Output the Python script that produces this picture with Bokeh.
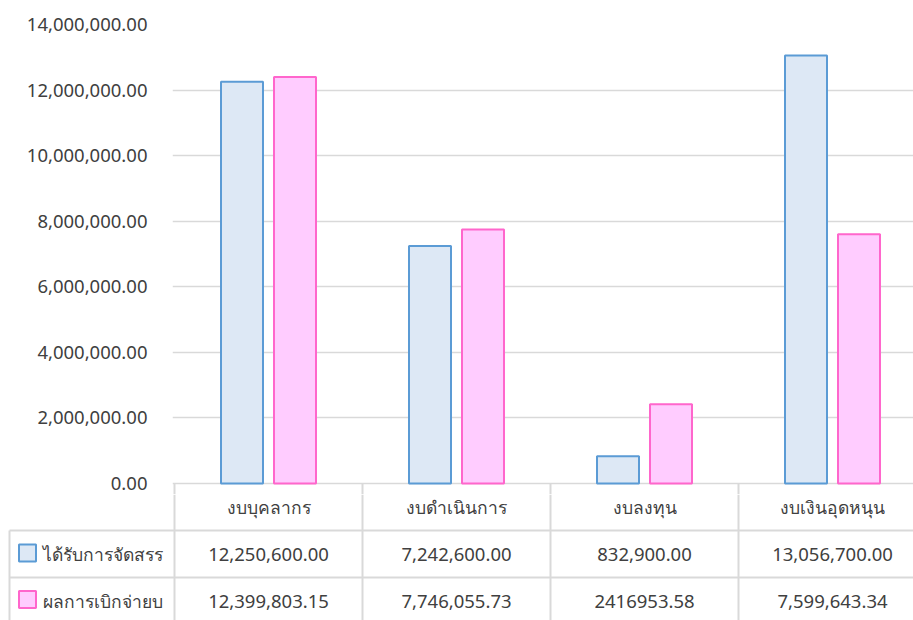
from bokeh.plotting import figure
from bokeh.models import Range1d, NumeralTickFormatter, FixedTicker, ColumnDataSource
from bokeh.layouts import column
from bokeh.embed import file_html
from bokeh.resources import INLINE
from bokeh.core.properties import value

# ---------------- data ----------------
categories = ["งบบุคลากร", "งบดำเนินการ", "งบลงทุน", "งบเงินอุดหนุน"]
series_names = ["ได้รับการจัดสรร", "ผลการเบิกจ่ายบ"]
allocated = [12250600.00, 7242600.00, 832900.00, 13056700.00]
disbursed = [12399803.15, 7746055.73, 2416953.58, 7599643.34]
allocated_labels = ["12,250,600.00", "7,242,600.00", "832,900.00", "13,056,700.00"]
disbursed_labels = ["12,399,803.15", "7,746,055.73", "2416953.58", "7,599,643.34"]
y_ticks = [0, 2000000, 4000000, 6000000, 8000000, 10000000, 12000000, 14000000]

# ---------------- style / layout ----------------
FONT = "Noto Sans, Tahoma, sans-serif"
TXT = "#404040"
GRID = "#d9d9d9"
BLUE_FILL, BLUE_LINE = "#dde8f5", "#5b9bd5"
PINK_FILL, PINK_LINE = "#ffccff", "#ff66cc"
NUM_SIZE = "18.5px"
THAI_SIZE = "17.5px"
PX = 188.0          # pixels per category column
W = 913
LEFT = 172          # top frame starts at x=172
TOP_BORDER = 24     # frame top at y=24
PLOT_PX = 459       # zero line at y=483
BELOW = 11          # frame extends 11px below zero
YMAX = 14000000
per_px = YMAX / PLOT_PX

x0 = -2 / PX
top = figure(width=W, height=TOP_BORDER + PLOT_PX + BELOW, output_backend="svg",
             toolbar_location=None, min_border_left=LEFT, min_border_right=0,
             min_border_top=TOP_BORDER, min_border_bottom=0,
             x_range=Range1d(x0, x0 + (W - LEFT) / PX),
             y_range=Range1d(-BELOW * per_px, YMAX))
top.frame_align = False
top.outline_line_color = None
top.xaxis.visible = False
top.xgrid.visible = False
top.ygrid.grid_line_color = GRID
top.ygrid.grid_line_width = 1.5
top.yaxis.ticker = FixedTicker(ticks=y_ticks)
top.yaxis.formatter = NumeralTickFormatter(format="0,0.00")
top.yaxis.axis_line_color = None
top.yaxis.major_tick_line_color = None
top.yaxis.minor_tick_line_color = None
top.yaxis.major_tick_out = 0
top.yaxis.major_tick_in = 0
top.yaxis.major_label_standoff = 25
top.yaxis.major_label_text_font = FONT
top.yaxis.major_label_text_font_size = NUM_SIZE
top.yaxis.major_label_text_color = TXT

centers = [i + 0.5 for i in range(len(categories))]
off = 26.5 / PX
bw = 42 / PX
src = ColumnDataSource(dict(
    xa=[c - off for c in centers], xb=[c + off for c in centers],
    a=allocated, b=disbursed))
top.vbar(x="xa", top="a", bottom=0, width=bw, source=src,
         fill_color=BLUE_FILL, line_color=BLUE_LINE, line_width=2)
top.vbar(x="xb", top="b", bottom=0, width=bw, source=src,
         fill_color=PINK_FILL, line_color=PINK_LINE, line_width=2)
# table vertical lines continuing below the zero line
bounds = list(range(len(categories) + 1))
top.segment(x0=bounds, x1=bounds, y0=[0] * len(bounds), y1=[-BELOW * per_px] * len(bounds),
            line_color=GRID, line_width=2)

# ---------------- data table ----------------
TH = 620 - (TOP_BORDER + PLOT_PX + BELOW)
tab = figure(width=W, height=TH, output_backend="svg", toolbar_location=None,
             min_border=0, x_range=Range1d(-174 / PX, 739 / PX),
             y_range=Range1d(BELOW + TH, BELOW))
tab.frame_align = False
tab.outline_line_color = None
tab.axis.visible = False
tab.grid.visible = False

xl = (9 - 174) / PX
n = len(categories)
# vertical lines
tab.segment(x0=[xl], x1=[xl], y0=[47], y1=[145], line_color=GRID, line_width=2)
tab.segment(x0=bounds, x1=bounds, y0=[BELOW] * len(bounds), y1=[145] * len(bounds),
            line_color=GRID, line_width=2)
# horizontal lines
tab.segment(x0=[xl, xl], x1=[n, n], y0=[47, 94], y1=[47, 94], line_color=GRID, line_width=2)

tab.text(x=centers, y=[23.5] * n, text=categories, text_font=value(FONT),
         text_font_size=THAI_SIZE, text_color=TXT, text_align="center", text_baseline="middle")
tab.text(x=centers, y=[70.5] * n, text=allocated_labels, text_font=value(FONT),
         text_font_size=NUM_SIZE, text_color=TXT, text_align="center", text_baseline="middle")
tab.text(x=centers, y=[117.5] * n, text=disbursed_labels, text_font=value(FONT),
         text_font_size=NUM_SIZE, text_color=TXT, text_align="center", text_baseline="middle")
# legend keys + names
kx = (27 - 174) / PX
tab.rect(x=[kx], y=[69.5], width=17, height=17, width_units="screen", height_units="screen",
         fill_color=BLUE_FILL, line_color=BLUE_LINE, line_width=2)
tab.rect(x=[kx], y=[116], width=17, height=17, width_units="screen", height_units="screen",
         fill_color=PINK_FILL, line_color=PINK_LINE, line_width=2)
tx = (42 - 174) / PX
tab.text(x=[tx, tx], y=[70.5, 117.5], text=series_names, text_font=value(FONT),
         text_font_size=THAI_SIZE, text_color=TXT, text_align="left", text_baseline="middle")

layout = column(top, tab, spacing=0)
open("out.html", "w").write(file_html(layout, INLINE))
